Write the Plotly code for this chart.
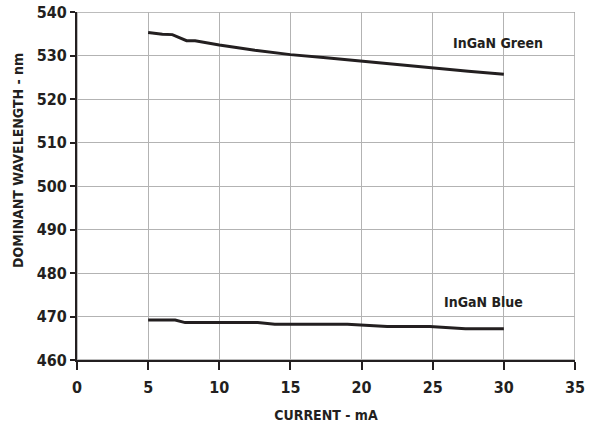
import plotly.graph_objects as go

green_x = [5, 6, 6.7, 7.7, 8.3, 10, 12.5, 15, 17.5, 20, 22.5, 25, 27.5, 30]
green_y = [535.3, 534.9, 534.8, 533.4, 533.4, 532.4, 531.2, 530.2, 529.5, 528.7, 527.9, 527.1, 526.4, 525.7]

blue_x = [5, 6.9, 7.6, 12.7, 13.9, 19.0, 21.8, 24.8, 27.3, 30]
blue_y = [469.2, 469.2, 468.6, 468.6, 468.2, 468.2, 467.7, 467.7, 467.2, 467.2]

x_ticks = [0, 5, 10, 15, 20, 25, 30, 35]
y_ticks = [460, 470, 480, 490, 500, 510, 520, 530, 540]

labels = ["InGaN Green", "InGaN Blue"]
label_x = [29.6, 28.6]
label_y = [532.9, 473.3]

x_title = "CURRENT - mA"
y_title = "DOMINANT WAVELENGTH - nm"

FONT = "DejaVu Sans Condensed, Liberation Sans Narrow, sans-serif"
ink = "#231f20"

fig = go.Figure()
fig.add_trace(go.Scatter(x=green_x, y=green_y, mode="lines",
                         line=dict(color=ink, width=3), showlegend=False))
fig.add_trace(go.Scatter(x=blue_x, y=blue_y, mode="lines",
                         line=dict(color=ink, width=3), showlegend=False))

for t, xx, yy in zip(labels, label_x, label_y):
    fig.add_annotation(x=xx, y=yy, text=t, showarrow=False,
                       font=dict(family=FONT, size=14, color=ink, weight="bold"))

# y-axis title placed as annotation (sits above the plot centre in the reference)
fig.add_annotation(xref="paper", yref="paper", x=0, y=0.572, xshift=-59,
                   xanchor="center", yanchor="middle", textangle=-90,
                   text=y_title, showarrow=False,
                   font=dict(family=FONT, size=14, color=ink, weight="bold"))

# top/right gray frame
fig.add_shape(type="rect", xref="x", yref="y", x0=0, x1=35, y0=460, y1=540,
              line=dict(color="#a6a6a6", width=1.5), layer="below")

fig.update_xaxes(range=[0, 35], tickvals=x_ticks, showgrid=True,
                 gridcolor="#b3b3b3", gridwidth=1.2, zeroline=False,
                 showline=True, linecolor=ink, linewidth=2,
                 ticks="outside", ticklen=8, tickwidth=2, tickcolor=ink,
                 automargin=False, ticklabelstandoff=4, ticklabeloverflow="allow",
                 tickfont=dict(family=FONT, size=16, color=ink, weight="bold"),
                 title=dict(text=x_title, standoff=14,
                            font=dict(family=FONT, size=14, color=ink, weight="bold")))
fig.update_yaxes(range=[460, 540], tickvals=y_ticks, showgrid=True,
                 gridcolor="#b3b3b3", gridwidth=1.2, zeroline=False,
                 showline=True, linecolor=ink, linewidth=2,
                 ticks="outside", ticklen=5, tickwidth=2, tickcolor=ink,
                 automargin=False, ticklabeloverflow="allow",
                 tickfont=dict(family=FONT, size=16, color=ink, weight="bold"))

fig.update_layout(width=595, height=427,
                  margin=dict(l=77, r=20, t=12, b=67, autoexpand=False),
                  plot_bgcolor="white", paper_bgcolor="white",
                  font=dict(family=FONT, color=ink))

fig.write_html("out.html", config={"displayModeBar": False},
               post_script="document.body.style.margin='0';")
